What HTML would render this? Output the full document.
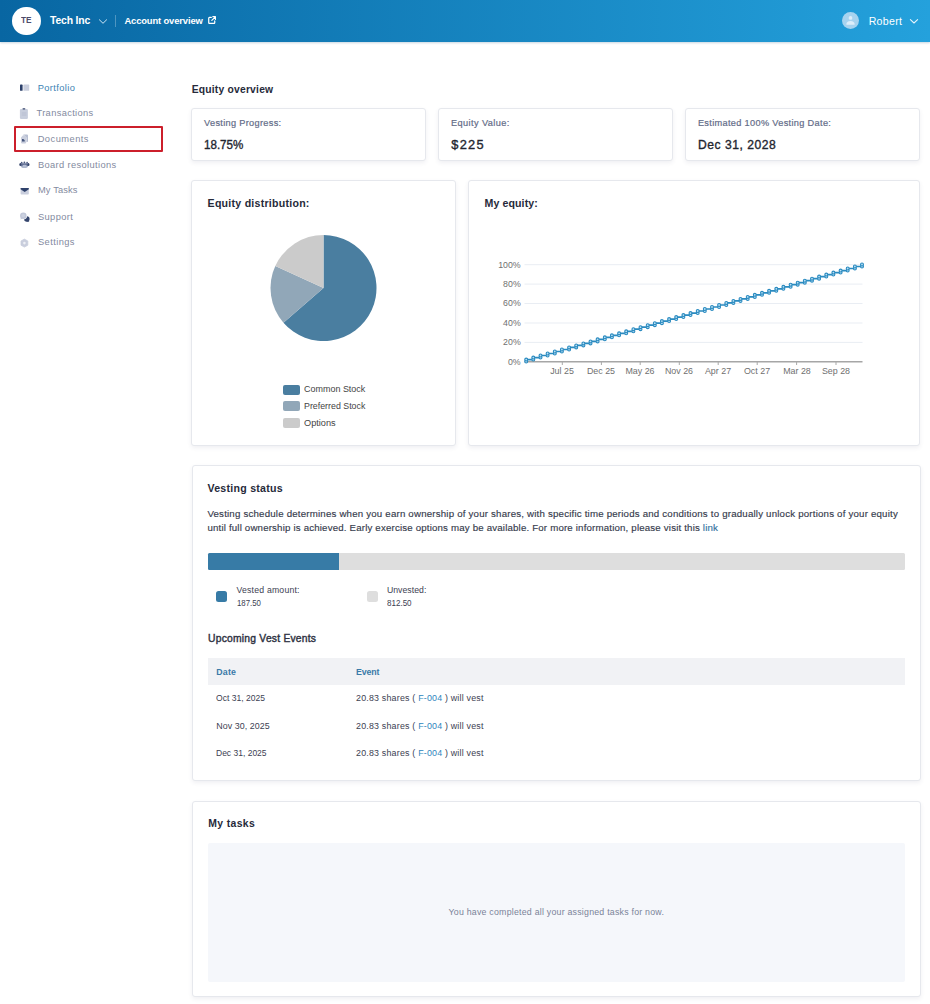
<!DOCTYPE html>
<html lang="en">
<head>
<meta charset="utf-8">
<title>Portfolio</title>
<style>
*{box-sizing:border-box;margin:0;padding:0}
html,body{width:930px;height:1004px;overflow:hidden;background:#fff}
body{position:relative;font-family:"Liberation Sans",sans-serif;color:#1f2433;-webkit-font-smoothing:antialiased}
.t{position:absolute;white-space:nowrap;line-height:20px;height:20px;display:block}
.hdr{position:absolute;left:0;top:0;width:930px;height:42px;background:linear-gradient(90deg,#0866a2 0%,#24a1dc 100%);box-shadow:0 1px 2px rgba(0,70,120,.22)}
.card{position:absolute;background:#fff;border:1px solid #e6e8ed;border-radius:3px;box-shadow:0 2px 4px rgba(60,70,100,.08)}
.nav{color:#838aa0;font-size:9.6px}
.lbl{color:#636c88;font-size:9.4px;-webkit-text-stroke:.2px #636c88}
.val{color:#22252f;font-size:13.5px;-webkit-text-stroke:.35px #22252f}
.h{color:#262a3a;font-weight:bold}
.cht{color:#707070;font-size:9.6px}
.ya{left:480px;width:40.7px;text-align:right;transform:scaleX(.915);transform-origin:100% 50%}
.xa{top:361.3px;width:40px;text-align:center;transform:scaleX(.925);transform-origin:50% 50%}
.sm{font-size:8.6px;color:#3c4152}
a{color:#2f86bd;text-decoration:none}
</style>
</head>
<body>

<!-- HEADER -->
<div class="hdr"></div>
<div style="position:absolute;left:12.3px;top:6.7px;width:28.3px;height:28.3px;border-radius:50%;background:#fff"></div>
<span class="t" id="te" style="left:21.1px;top:10.3px;font-size:9.3px;letter-spacing:0px;transform-origin:0 50%;transform:scaleX(0.883);font-weight:bold;color:#4d4a68">TE</span>
<span class="t" id="techinc" style="left:50.1px;top:10.6px;font-size:10.4px;letter-spacing:-0.170px;transform-origin:0 50%;transform:none;font-weight:bold;color:#fff">Tech Inc</span>
<svg style="position:absolute;left:98px;top:17.500px" width="10" height="8" viewBox="0 0 10 8"><path d="M1.400 1.800 L5 5.300 L8.600 1.800" fill="none" stroke="#cfe6f5" stroke-width="1" stroke-linecap="round" stroke-linejoin="round"/></svg>
<div style="position:absolute;left:115px;top:15px;width:1px;height:12px;background:rgba(255,255,255,.28)"></div>
<span class="t" id="acct" style="left:124.4px;top:10.8px;font-size:9.4px;letter-spacing:-0.122px;transform-origin:0 50%;transform:none;font-weight:bold;color:#fff">Account overview</span>
<svg style="position:absolute;left:207.700px;top:16px" width="8.200" height="8.200" viewBox="0 0 9 9"><path d="M3.6 1.6H1.6a.8.8 0 0 0-.8.8v5a.8.8 0 0 0 .8.8h5a.8.8 0 0 0 .8-.8V5.4" fill="none" stroke="#fff" stroke-width="1.35" stroke-linecap="round"/><path d="M5.3 .8H8.2V3.7M8.1 .9L4.2 4.8" fill="none" stroke="#fff" stroke-width="1.35" stroke-linecap="round" stroke-linejoin="round"/></svg>
<svg style="position:absolute;left:841.8px;top:12.1px" width="17" height="17" viewBox="0 0 17 17"><circle cx="8.5" cy="8.5" r="8.5" fill="#a6d3ef"/><circle cx="8.5" cy="5.900" r="1.850" fill="#dceefa"/><path d="M4.300 12.700a4.200 3.700 0 0 1 8.400 0z" fill="#dceefa"/></svg>
<span class="t" id="robert" style="left:868.7px;top:10.6px;font-size:10.6px;letter-spacing:0.281px;transform-origin:0 50%;transform:none;color:#fff">Robert</span>
<svg style="position:absolute;left:909.2px;top:17.9px" width="10" height="8" viewBox="0 0 10 8"><path d="M1.400 1.700 L5 5 L8.600 1.700" fill="none" stroke="#e6f3fb" stroke-width="1.1" stroke-linecap="round" stroke-linejoin="round"/></svg>

<!-- SIDEBAR -->
<div id="sidebar">
<span class="t nav" id="n1" style="left:37.7px;top:77.5px;font-size:9.3px;letter-spacing:0.386px;transform-origin:0 50%;transform:none;color:#3d83b3">Portfolio</span>
<span class="t nav" id="n2" style="left:36.5px;top:102.8px;font-size:9.3px;letter-spacing:0.346px;transform-origin:0 50%;transform:none">Transactions</span>
<div style="position:absolute;left:14px;top:126px;width:149px;height:26px;border:2px solid #cc1f2b;border-radius:1px"></div>
<span class="t nav" id="n3" style="left:37.7px;top:128.9px;font-size:9.3px;letter-spacing:0.471px;transform-origin:0 50%;transform:none">Documents</span>
<span class="t nav" id="n4" style="left:38.0px;top:154.9px;font-size:9.3px;letter-spacing:0.359px;transform-origin:0 50%;transform:none">Board resolutions</span>
<span class="t nav" id="n5" style="left:38.0px;top:180.3px;font-size:9.3px;letter-spacing:0.117px;transform-origin:0 50%;transform:none">My Tasks</span>
<span class="t nav" id="n6" style="left:38.0px;top:206.9px;font-size:9.3px;letter-spacing:0.373px;transform-origin:0 50%;transform:none">Support</span>
<span class="t nav" id="n7" style="left:38.0px;top:232.3px;font-size:9.3px;letter-spacing:0.415px;transform-origin:0 50%;transform:none">Settings</span>
<!-- sidebar icons -->
<svg style="position:absolute;left:19px;top:83px" width="12" height="10" viewBox="19 83 12 10"><rect x="20" y="84.6" width="2.6" height="6.2" rx=".6" fill="#2b3f69"/><rect x="23.4" y="84.6" width="5.8" height="6.2" rx=".6" fill="#c9cedd"/></svg>
<svg style="position:absolute;left:19px;top:107px" width="11" height="13" viewBox="19 107 11 13"><rect x="19.900" y="108.900" width="8" height="10" rx="1.200" fill="#c8cedd"/><rect x="22.500" y="107.900" width="2.800" height="1.900" rx=".7" fill="#66718f"/><rect x="21.8" y="112.6" width="4.6" height=".8" fill="#b4bbcf"/><rect x="21.8" y="114.6" width="4.6" height=".8" fill="#b4bbcf"/></svg>
<svg style="position:absolute;left:20px;top:133px" width="10" height="12" viewBox="20 133 10 12"><path d="M23.4 134.6h3.6a1 1 0 0 1 1 1v5.6a.8.8 0 0 1-.8.8h-.8v-4.6l-2.4-2.4h-.6z" fill="#b7bed2"/><path d="M21 137.4l2-2.2h1.6l1.6 1.6v5.8a.8.8 0 0 1-.8.8h-3.600a.8.8 0 0 1-.8-.8z" fill="#c9cedd"/><path d="M22 138.900h1.300l1.400 1.300v1.200h-2.700z" fill="#44547c"/></svg>
<svg style="position:absolute;left:19px;top:160px" width="12" height="10" viewBox="19 160 12 10"><ellipse cx="24.4" cy="165.700" rx="3.700" ry="2.300" fill="#aeb7cd"/><path d="M20.200 163.200h8.400v1.500a4.200 1.600 0 0 1-8.400 0z" fill="#55638a" opacity=".85"/><ellipse cx="20.300" cy="164.600" rx=".95" ry="1.500" fill="#34446c"/><ellipse cx="28.500" cy="164.600" rx=".95" ry="1.500" fill="#34446c"/><circle cx="21.700" cy="162.700" r=".85" fill="#4a587f"/><circle cx="24.400" cy="162.300" r=".9" fill="#4a587f"/><circle cx="27.100" cy="162.700" r=".85" fill="#4a587f"/><ellipse cx="24.600" cy="166" rx="2.200" ry="1.300" fill="#b4bdd2"/></svg>
<svg style="position:absolute;left:20px;top:187px" width="10" height="9" viewBox="20 187 10 9"><rect x="20.600" y="188" width="8.200" height="6.600" rx=".8" fill="#c9cedd"/><path d="M20.600 188h8.200v1.200l-4.100 2.800-4.100-2.800z" fill="#2f416b"/></svg>
<svg style="position:absolute;left:19px;top:211px" width="12" height="13" viewBox="19 211 12 13"><circle cx="26.800" cy="218.900" r="2.750" fill="#34456d"/><path d="M27.600 220.200l1.800 1.700-2.900-.3z" fill="#34456d"/><circle cx="23.300" cy="215.800" r="3.750" fill="#fff"/><circle cx="23.300" cy="215.800" r="3.250" fill="#c2c8d9"/><path d="M21 217.600l-.6 1.900 2.200-.9z" fill="#c2c8d9"/><circle cx="23.300" cy="215.600" r="1.700" fill="#ccd2e0"/></svg>
<svg style="position:absolute;left:20px;top:238px" width="10" height="10" viewBox="20 238 10 10"><path d="M24.400 239.100l3.400 1.900v4.200l-3.400 1.900-3.400-1.900v-4.200z" fill="#c9cedd" stroke="#c9cedd" stroke-width=".8" stroke-linejoin="round"/><circle cx="24.400" cy="243.100" r="1.300" fill="#eef0f5"/></svg>
</div>

<!-- EQUITY OVERVIEW -->
<span class="t h" id="eqov" style="left:191.7px;top:79.8px;font-size:10.3px;letter-spacing:0.214px;transform-origin:0 50%;transform:none">Equity overview</span>

<div class="card" style="left:191px;top:108px;width:235px;height:53px"></div>
<div class="card" style="left:438.3px;top:108px;width:235px;height:53px"></div>
<div class="card" style="left:685.3px;top:108px;width:235px;height:53px"></div>
<span class="t lbl" id="c1l" style="left:204.1px;top:113.0px;font-size:9.2px;letter-spacing:0.312px;transform-origin:0 50%;transform:none">Vesting Progress:</span>
<span class="t val" id="c1v" style="left:204.4px;top:135.3px;font-size:12.1px;letter-spacing:0px;transform-origin:0 50%;transform:scaleX(0.958)">18.75%</span>
<span class="t lbl" id="c2l" style="left:451.0px;top:113.0px;font-size:9.2px;letter-spacing:0.403px;transform-origin:0 50%;transform:none">Equity Value:</span>
<span class="t val" id="c2v" style="left:451.3px;top:135.3px;font-size:12.8px;letter-spacing:1.244px;transform-origin:0 50%;transform:none">$225</span>
<span class="t lbl" id="c3l" style="left:697.9px;top:113.0px;font-size:9.2px;letter-spacing:0.329px;transform-origin:0 50%;transform:none">Estimated 100% Vesting Date:</span>
<span class="t val" id="c3v" style="left:697.9px;top:135.3px;font-size:12.1px;letter-spacing:0.541px;transform-origin:0 50%;transform:none">Dec 31, 2028</span>

<!-- EQUITY DISTRIBUTION -->
<div class="card" style="left:191px;top:180px;width:265.3px;height:266px"></div>
<span class="t h" id="eqd" style="left:207.6px;top:193.2px;font-size:10.6px;letter-spacing:0.247px;transform-origin:0 50%;transform:none">Equity distribution:</span>
<svg id="pie" style="position:absolute;left:260.2px;top:225.35px" width="127" height="127" viewBox="-63.5 -63 127 127">
  <path d="M0 0 L0 -53 A53 53 0 1 1 -40.05 34.71 Z" fill="#4a7ea0"/>
  <path d="M0 0 L-40.05 34.71 A53 53 0 0 1 -48.21 -22.02 Z" fill="#91a7b8"/>
  <path d="M0 0 L-48.21 -22.02 A53 53 0 0 1 0 -53 Z" fill="#cbcbcb"/>
</svg>
<div style="position:absolute;left:282.5px;top:384.5px;width:17.5px;height:10px;border-radius:2px;background:#4a7ea0"></div>
<div style="position:absolute;left:282.5px;top:401.2px;width:17.5px;height:10px;border-radius:2px;background:#91a7b8"></div>
<div style="position:absolute;left:282.5px;top:417.8px;width:17.5px;height:10px;border-radius:2px;background:#cbcbcb"></div>
<span class="t cht" id="lg1" style="left:303.5px;top:379.4px;font-size:9.6px;letter-spacing:0px;transform-origin:0 50%;transform:scaleX(0.935);color:#444">Common Stock</span>
<span class="t cht" id="lg2" style="left:303.5px;top:396.1px;font-size:9.6px;letter-spacing:0px;transform-origin:0 50%;transform:scaleX(0.920);color:#444">Preferred Stock</span>
<span class="t cht" id="lg3" style="left:303.5px;top:412.6px;font-size:9.6px;letter-spacing:0px;transform-origin:0 50%;transform:scaleX(0.958);color:#444">Options</span>

<!-- MY EQUITY -->
<div class="card" style="left:468.3px;top:180px;width:452px;height:266px"></div>
<span class="t h" id="myeq" style="left:484.5px;top:193.2px;font-size:10.6px;letter-spacing:0.101px;transform-origin:0 50%;transform:none">My equity:</span>
<svg id="chart" style="position:absolute;left:468px;top:240px" width="452" height="150" viewBox="468 240 452 150">
<line x1="524.5" x2="862.5" y1="342.4" y2="342.4" stroke="#e9edf3" stroke-width="1"/>
<line x1="524.5" x2="862.5" y1="323.0" y2="323.0" stroke="#e9edf3" stroke-width="1"/>
<line x1="524.5" x2="862.5" y1="303.5" y2="303.5" stroke="#e9edf3" stroke-width="1"/>
<line x1="524.5" x2="862.5" y1="284.1" y2="284.1" stroke="#e9edf3" stroke-width="1"/>
<line x1="524.5" x2="862.5" y1="264.7" y2="264.7" stroke="#e9edf3" stroke-width="1"/>
<line x1="524.5" x2="862.5" y1="361.8" y2="361.8" stroke="#a6a6a6" stroke-width="1.5"/>
<line x1="562.3" x2="562.3" y1="361.8" y2="365.0" stroke="#a9a9a9" stroke-width="1"/>
<line x1="601.4" x2="601.4" y1="361.8" y2="365.0" stroke="#a9a9a9" stroke-width="1"/>
<line x1="640.2" x2="640.2" y1="361.8" y2="365.0" stroke="#a9a9a9" stroke-width="1"/>
<line x1="679.3" x2="679.3" y1="361.8" y2="365.0" stroke="#a9a9a9" stroke-width="1"/>
<line x1="718.2" x2="718.2" y1="361.8" y2="365.0" stroke="#a9a9a9" stroke-width="1"/>
<line x1="757.2" x2="757.2" y1="361.8" y2="365.0" stroke="#a9a9a9" stroke-width="1"/>
<line x1="796.6" x2="796.6" y1="361.8" y2="365.0" stroke="#a9a9a9" stroke-width="1"/>
<line x1="836.0" x2="836.0" y1="361.8" y2="365.0" stroke="#a9a9a9" stroke-width="1"/>
<polyline fill="none" stroke="#2b8bc0" stroke-width="1.7" stroke-linejoin="round" points="526.2,361.6 526.2,359.6 533.3,359.6 533.3,357.6 540.5,357.6 540.5,355.5 547.6,355.5 547.6,353.5 554.8,353.5 554.8,351.5 561.9,351.5 561.9,349.5 569.1,349.5 569.1,347.4 576.2,347.4 576.2,345.4 583.4,345.4 583.4,343.4 590.5,343.4 590.5,341.4 597.6,341.4 597.6,339.3 604.8,339.3 604.8,337.3 611.9,337.3 611.9,335.3 619.1,335.3 619.1,333.3 626.2,333.3 626.2,331.3 633.4,331.3 633.4,329.2 640.5,329.2 640.5,327.2 647.7,327.2 647.7,325.2 654.8,325.2 654.8,323.2 661.9,323.2 661.9,321.1 669.1,321.1 669.1,319.1 676.2,319.1 676.2,317.1 683.4,317.1 683.4,315.1 690.5,315.1 690.5,313.1 697.7,313.1 697.7,311.0 704.8,311.0 704.8,309.0 712.0,309.0 712.0,307.0 719.1,307.0 719.1,305.0 726.3,305.0 726.3,302.9 733.4,302.9 733.4,300.9 740.5,300.9 740.5,298.9 747.7,298.9 747.7,296.9 754.8,296.9 754.8,294.8 762.0,294.8 762.0,292.8 769.1,292.8 769.1,290.8 776.3,290.8 776.3,288.8 783.4,288.8 783.4,286.8 790.6,286.8 790.6,284.7 797.7,284.7 797.7,282.7 804.8,282.7 804.8,280.7 812.0,280.7 812.0,278.7 819.1,278.7 819.1,276.6 826.3,276.6 826.3,274.6 833.4,274.6 833.4,272.6 840.6,272.6 840.6,270.6 847.7,270.6 847.7,268.5 854.9,268.5 854.9,266.5 862.0,266.5 862.0,264.5"/>
<g fill="#b9dff4" stroke="#2b8bc0" stroke-width="1.1"><circle cx="526.2" cy="361.6" r="1.45"/><circle cx="526.2" cy="359.6" r="1.45"/><circle cx="533.3" cy="359.6" r="1.45"/><circle cx="533.3" cy="357.6" r="1.45"/><circle cx="540.5" cy="357.6" r="1.45"/><circle cx="540.5" cy="355.5" r="1.45"/><circle cx="547.6" cy="355.5" r="1.45"/><circle cx="547.6" cy="353.5" r="1.45"/><circle cx="554.8" cy="353.5" r="1.45"/><circle cx="554.8" cy="351.5" r="1.45"/><circle cx="561.9" cy="351.5" r="1.45"/><circle cx="561.9" cy="349.5" r="1.45"/><circle cx="569.1" cy="349.5" r="1.45"/><circle cx="569.1" cy="347.4" r="1.45"/><circle cx="576.2" cy="347.4" r="1.45"/><circle cx="576.2" cy="345.4" r="1.45"/><circle cx="583.4" cy="345.4" r="1.45"/><circle cx="583.4" cy="343.4" r="1.45"/><circle cx="590.5" cy="343.4" r="1.45"/><circle cx="590.5" cy="341.4" r="1.45"/><circle cx="597.6" cy="341.4" r="1.45"/><circle cx="597.6" cy="339.3" r="1.45"/><circle cx="604.8" cy="339.3" r="1.45"/><circle cx="604.8" cy="337.3" r="1.45"/><circle cx="611.9" cy="337.3" r="1.45"/><circle cx="611.9" cy="335.3" r="1.45"/><circle cx="619.1" cy="335.3" r="1.45"/><circle cx="619.1" cy="333.3" r="1.45"/><circle cx="626.2" cy="333.3" r="1.45"/><circle cx="626.2" cy="331.3" r="1.45"/><circle cx="633.4" cy="331.3" r="1.45"/><circle cx="633.4" cy="329.2" r="1.45"/><circle cx="640.5" cy="329.2" r="1.45"/><circle cx="640.5" cy="327.2" r="1.45"/><circle cx="647.7" cy="327.2" r="1.45"/><circle cx="647.7" cy="325.2" r="1.45"/><circle cx="654.8" cy="325.2" r="1.45"/><circle cx="654.8" cy="323.2" r="1.45"/><circle cx="661.9" cy="323.2" r="1.45"/><circle cx="661.9" cy="321.1" r="1.45"/><circle cx="669.1" cy="321.1" r="1.45"/><circle cx="669.1" cy="319.1" r="1.45"/><circle cx="676.2" cy="319.1" r="1.45"/><circle cx="676.2" cy="317.1" r="1.45"/><circle cx="683.4" cy="317.1" r="1.45"/><circle cx="683.4" cy="315.1" r="1.45"/><circle cx="690.5" cy="315.1" r="1.45"/><circle cx="690.5" cy="313.1" r="1.45"/><circle cx="697.7" cy="313.1" r="1.45"/><circle cx="697.7" cy="311.0" r="1.45"/><circle cx="704.8" cy="311.0" r="1.45"/><circle cx="704.8" cy="309.0" r="1.45"/><circle cx="712.0" cy="309.0" r="1.45"/><circle cx="712.0" cy="307.0" r="1.45"/><circle cx="719.1" cy="307.0" r="1.45"/><circle cx="719.1" cy="305.0" r="1.45"/><circle cx="726.3" cy="305.0" r="1.45"/><circle cx="726.3" cy="302.9" r="1.45"/><circle cx="733.4" cy="302.9" r="1.45"/><circle cx="733.4" cy="300.9" r="1.45"/><circle cx="740.5" cy="300.9" r="1.45"/><circle cx="740.5" cy="298.9" r="1.45"/><circle cx="747.7" cy="298.9" r="1.45"/><circle cx="747.7" cy="296.9" r="1.45"/><circle cx="754.8" cy="296.9" r="1.45"/><circle cx="754.8" cy="294.8" r="1.45"/><circle cx="762.0" cy="294.8" r="1.45"/><circle cx="762.0" cy="292.8" r="1.45"/><circle cx="769.1" cy="292.8" r="1.45"/><circle cx="769.1" cy="290.8" r="1.45"/><circle cx="776.3" cy="290.8" r="1.45"/><circle cx="776.3" cy="288.8" r="1.45"/><circle cx="783.4" cy="288.8" r="1.45"/><circle cx="783.4" cy="286.8" r="1.45"/><circle cx="790.6" cy="286.8" r="1.45"/><circle cx="790.6" cy="284.7" r="1.45"/><circle cx="797.7" cy="284.7" r="1.45"/><circle cx="797.7" cy="282.7" r="1.45"/><circle cx="804.8" cy="282.7" r="1.45"/><circle cx="804.8" cy="280.7" r="1.45"/><circle cx="812.0" cy="280.7" r="1.45"/><circle cx="812.0" cy="278.7" r="1.45"/><circle cx="819.1" cy="278.7" r="1.45"/><circle cx="819.1" cy="276.6" r="1.45"/><circle cx="826.3" cy="276.6" r="1.45"/><circle cx="826.3" cy="274.6" r="1.45"/><circle cx="833.4" cy="274.6" r="1.45"/><circle cx="833.4" cy="272.6" r="1.45"/><circle cx="840.6" cy="272.6" r="1.45"/><circle cx="840.6" cy="270.6" r="1.45"/><circle cx="847.7" cy="270.6" r="1.45"/><circle cx="847.7" cy="268.5" r="1.45"/><circle cx="854.9" cy="268.5" r="1.45"/><circle cx="854.9" cy="266.5" r="1.45"/><circle cx="862.0" cy="266.5" r="1.45"/><circle cx="862.0" cy="264.5" r="1.45"/></g>
</svg>

<!-- chart labels -->
<span class="t cht ya" id="y100" style="top:254.6px">100%</span>
<span class="t cht ya" id="y80" style="top:274px">80%</span>
<span class="t cht ya" id="y60" style="top:293.4px">60%</span>
<span class="t cht ya" id="y40" style="top:312.7px">40%</span>
<span class="t cht ya" id="y20" style="top:332.1px">20%</span>
<span class="t cht ya" id="y0" style="top:351.5px">0%</span>
<span class="t cht xa" id="x1" style="left:542.3px">Jul 25</span>
<span class="t cht xa" id="x2" style="left:581.4px">Dec 25</span>
<span class="t cht xa" id="x3" style="left:620.2px">May 26</span>
<span class="t cht xa" id="x4" style="left:659.3px">Nov 26</span>
<span class="t cht xa" id="x5" style="left:698.2px">Apr 27</span>
<span class="t cht xa" id="x6" style="left:737.2px">Oct 27</span>
<span class="t cht xa" id="x7" style="left:776.6px">Mar 28</span>
<span class="t cht xa" id="x8" style="left:816px">Sep 28</span>

<!-- VESTING STATUS -->
<div class="card" style="left:192px;top:465px;width:729px;height:316px"></div>
<span class="t h" id="vs" style="left:207.4px;top:477.8px;font-size:10.6px;letter-spacing:0.267px;transform-origin:0 50%;transform:none">Vesting status</span>
<span class="t" id="p1" style="left:207.4px;top:503.7px;font-size:9.7px;letter-spacing:0.195px;transform-origin:0 50%;transform:none;-webkit-text-stroke:.15px #353a4b;color:#353a4b">Vesting schedule determines when you earn ownership of your shares, with specific time periods and conditions to gradually unlock portions of your equity</span>
<span class="t" id="p2" style="left:207.4px;top:518.0px;font-size:9.7px;letter-spacing:0.174px;transform-origin:0 50%;transform:none;-webkit-text-stroke:.15px #353a4b;color:#353a4b">until full ownership is achieved. Early exercise options may be available. For more information, please visit this <a>link</a></span>
<div style="position:absolute;left:207.5px;top:552.5px;width:697px;height:17px;background:#dedede;border-radius:1.5px"></div>
<div style="position:absolute;left:207.5px;top:552.5px;width:131px;height:17px;background:#377ba6;border-radius:1.5px 0 0 1.5px"></div>
<div style="position:absolute;left:216.2px;top:590.6px;width:11.2px;height:11.2px;border-radius:2.5px;background:#377ba6"></div>
<div style="position:absolute;left:366.5px;top:590.6px;width:11.2px;height:11.2px;border-radius:2.5px;background:#dedede"></div>
<span class="t sm" id="va1" style="left:236.5px;top:580.1px;font-size:8.7px;letter-spacing:0.202px;transform-origin:0 50%;transform:none">Vested amount:</span>
<span class="t sm" id="va2" style="left:236.5px;top:593.0px;font-size:9.1px;letter-spacing:0px;transform-origin:0 50%;transform:scaleX(0.862)">187.50</span>
<span class="t sm" id="uv1" style="left:386.9px;top:580.1px;font-size:8.7px;letter-spacing:0.047px;transform-origin:0 50%;transform:none">Unvested:</span>
<span class="t sm" id="uv2" style="left:386.9px;top:593.0px;font-size:9.1px;letter-spacing:0px;transform-origin:0 50%;transform:scaleX(0.884)">812.50</span>
<span class="t" id="uve" style="left:208.1px;top:628.5px;font-size:10.3px;letter-spacing:0.227px;transform-origin:0 50%;transform:none;color:#2e3242;font-weight:normal;-webkit-text-stroke:.4px #2e3242">Upcoming Vest Events</span>
<div style="position:absolute;left:207.5px;top:658px;width:697px;height:27px;background:#f1f2f5"></div>
<span class="t sm" id="thd" style="left:216.3px;top:661.6px;font-size:8.8px;letter-spacing:0.207px;transform-origin:0 50%;transform:none;font-weight:bold;color:#397aa8">Date</span>
<span class="t sm" id="the" style="left:356.0px;top:661.6px;font-size:8.8px;letter-spacing:-0.117px;transform-origin:0 50%;transform:none;font-weight:bold;color:#397aa8">Event</span>
<span class="t sm" id="r1d" style="left:216.3px;top:688.2px;font-size:8.9px;letter-spacing:0px;transform-origin:0 50%;transform:scaleX(0.964)">Oct 31, 2025</span>
<span class="t sm" id="r1e" style="left:356.0px;top:688.2px;font-size:8.9px;letter-spacing:0.195px;transform-origin:0 50%;transform:none">20.83 shares ( <a>F-004</a> ) will vest</span>
<span class="t sm" id="r2d" style="left:216.3px;top:715.6px;font-size:8.9px;letter-spacing:0.064px;transform-origin:0 50%;transform:none">Nov 30, 2025</span>
<span class="t sm" id="r2e" style="left:356.0px;top:715.6px;font-size:8.9px;letter-spacing:0.195px;transform-origin:0 50%;transform:none">20.83 shares ( <a>F-004</a> ) will vest</span>
<span class="t sm" id="r3d" style="left:216.3px;top:743.0px;font-size:8.9px;letter-spacing:0px;transform-origin:0 50%;transform:scaleX(0.958)">Dec 31, 2025</span>
<span class="t sm" id="r3e" style="left:356.0px;top:743.0px;font-size:8.9px;letter-spacing:0.195px;transform-origin:0 50%;transform:none">20.83 shares ( <a>F-004</a> ) will vest</span>

<!-- MY TASKS -->
<div class="card" style="left:192px;top:801px;width:729px;height:196px"></div>
<span class="t h" id="mt" style="left:208.2px;top:813.8px;font-size:10.4px;letter-spacing:0.385px;transform-origin:0 50%;transform:none">My tasks</span>
<div style="position:absolute;left:208px;top:843px;width:696.5px;height:139px;background:#f5f7fb;border-radius:2px"></div>
<span class="t" id="done" style="left:448.5px;top:901.5px;font-size:8.8px;letter-spacing:0.226px;transform-origin:0 50%;transform:none;color:#7a8399">You have completed all your assigned tasks for now.</span>

</body>
</html>
